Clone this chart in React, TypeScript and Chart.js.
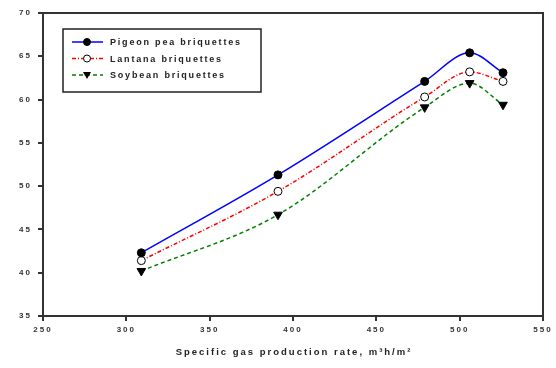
import React, { useEffect, useRef } from "react";
import { Chart, registerables } from "chart.js";
Chart.register(...registerables);

const rates = [309, 391, 479, 506, 526];
const pigeonPea = [42.3, 51.3, 62.1, 65.4, 63.1];
const lantana = [41.4, 49.4, 60.3, 63.2, 62.1];
const soybean = [40.2, 46.7, 59.1, 61.9, 59.4];
const seriesNames = ["Pigeon pea briquettes", "Lantana briquettes", "Soybean briquettes"];
const xTitle = "Specific gas production rate, m\u00B3h/m\u00B2";

const FONT = "Arial, 'Liberation Sans', sans-serif";

const spacing = {
  id: "spacing",
  beforeDraw(chart: any) {
    (chart.ctx as any).letterSpacing = "2px";
  },
};

const frameAndLegend = {
  id: "frameAndLegend",
  afterDatasetsDraw(chart: any) {
    const { ctx, chartArea: a } = chart;
    ctx.save();
    ctx.strokeStyle = "#333";
    ctx.lineWidth = 2;
    ctx.strokeRect(a.left, a.top, a.right - a.left, a.bottom - a.top);
    const lx = a.left + 20, ly = a.top + 16, lw = 198, lh = 63;
    ctx.lineWidth = 1.5;
    ctx.strokeStyle = "#222";
    ctx.fillStyle = "#fff";
    ctx.fillRect(lx, ly, lw, lh);
    ctx.strokeRect(lx, ly, lw, lh);
    ctx.font = "bold 9px " + FONT;
    (ctx as any).letterSpacing = "1.8px";
    ctx.textBaseline = "middle";
    chart.data.datasets.forEach((ds: any, i: number) => {
      const y = ly + 13 + i * 16.5;
      ctx.strokeStyle = ds.borderColor;
      ctx.lineWidth = 1.5;
      ctx.setLineDash(ds.borderDash || []);
      ctx.beginPath();
      ctx.moveTo(lx + 9, y);
      ctx.lineTo(lx + 40, y);
      ctx.stroke();
      ctx.setLineDash([]);
      ctx.fillStyle = ds.pointBackgroundColor;
      ctx.strokeStyle = "#000";
      ctx.lineWidth = 1;
      const cx = lx + 24;
      if (ds.pointStyle === "triangle") {
        ctx.beginPath();
        ctx.moveTo(cx - 4, y - 3);
        ctx.lineTo(cx + 4, y - 3);
        ctx.lineTo(cx, y + 4);
        ctx.closePath();
        ctx.fill();
      } else {
        ctx.beginPath();
        ctx.arc(cx, y, 3.5, 0, Math.PI * 2);
        ctx.fill();
        ctx.stroke();
      }
      ctx.fillStyle = "#222";
      ctx.fillText(ds.label, lx + 47, y + 1);
    });
    ctx.font = "bold 9.5px " + FONT;
    (ctx as any).letterSpacing = "2px";
    ctx.textAlign = "center";
    ctx.fillStyle = "#222";
    ctx.fillText(xTitle, (a.left + a.right) / 2 + 1, 352);
    ctx.restore();
  },
};

export default function App() {
  const ref = useRef<HTMLCanvasElement>(null);
  useEffect(() => {
    const common = { borderWidth: 1.5, pointRadius: 4, pointBorderColor: "#000", pointBorderWidth: 1, cubicInterpolationMode: "monotone", fill: false };
    const chart = new Chart(ref.current!, {
      type: "line",
      data: {
        datasets: [
          { ...common, label: seriesNames[0], data: rates.map((x, i) => ({ x, y: pigeonPea[i] })), borderColor: "#0000ff", pointBackgroundColor: "#000", pointStyle: "circle" },
          { ...common, label: seriesNames[1], data: rates.map((x, i) => ({ x, y: lantana[i] })), borderColor: "#ff0000", borderDash: [4, 2, 1, 2], pointBackgroundColor: "#fff", pointStyle: "circle" },
          { ...common, label: seriesNames[2], data: rates.map((x, i) => ({ x, y: soybean[i] })), borderColor: "#008000", borderDash: [4, 3], pointBackgroundColor: "#000", pointStyle: "triangle", rotation: 180, pointRadius: 5 },
        ],
      } as any,
      options: {
        animation: false,
        responsive: false,
        layout: { padding: { top: 13, right: 13, left: 0, bottom: 0 } },
        plugins: { legend: { display: false }, tooltip: { enabled: false } },
        scales: {
          x: {
            type: "linear",
            min: 250,
            max: 550,
            ticks: { stepSize: 50, color: "#333", font: { size: 8, weight: "bold", family: FONT }, padding: 4 },
            grid: { display: true, drawOnChartArea: false, drawTicks: true, tickLength: 5, color: "#333", lineWidth: 2 },
            border: { display: true, color: "#333", width: 2 },
            afterFit: (s: any) => { s.height = 52; },
          },
          y: {
            min: 35,
            max: 70,
            ticks: { stepSize: 5, color: "#333", font: { size: 8, weight: "bold", family: FONT }, padding: 6 },
            grid: { display: true, drawOnChartArea: false, drawTicks: true, tickLength: 5, color: "#333", lineWidth: 2 },
            border: { display: true, color: "#333", width: 2 },
            afterFit: (s: any) => { s.width = 43; },
          },
        },
      } as any,
      plugins: [spacing, frameAndLegend],
    });
    return () => chart.destroy();
  }, []);
  return (
    <div style={{ position: "absolute", left: 0, top: 0, width: 556, height: 368, background: "#fff" }}>
      <canvas ref={ref} width={556} height={368} />
    </div>
  );
}
